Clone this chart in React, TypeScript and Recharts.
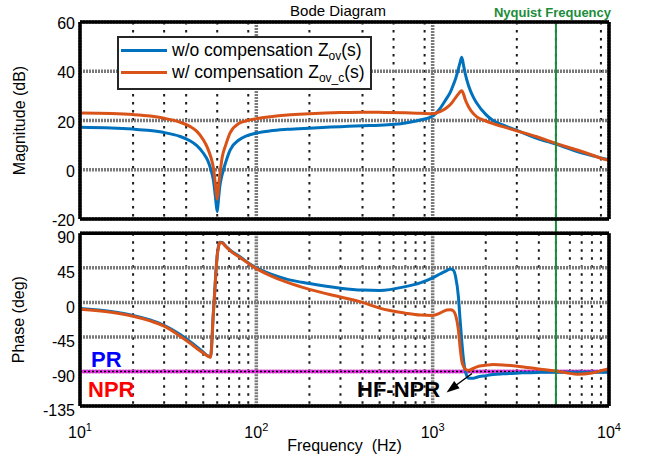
import React from 'react';
import {
  LineChart,
  Line,
  XAxis,
  YAxis,
  CartesianGrid,
  ReferenceLine,
} from 'recharts';

const FONT = '"Liberation Sans", Arial, Helvetica, sans-serif';
const BLUE = '#0072BD';
const ORANGE = '#D95319';
const GREEN = '#1a8c3a';

// frequency points (Hz)
const freqs = [
  10, 15, 20, 25, 30, 37, 42, 46, 50, 53,
  55, 57, 58, 59, 60, 61, 62, 64, 67, 71,
  80, 88, 100, 120, 150, 200, 300, 400, 500, 700,
  850, 1000, 1100, 1200, 1260, 1310, 1350, 1400, 1430, 1462,
  1500, 1530, 1600, 1700, 1780, 2000, 2200, 2500, 3100, 3900,
  5000, 6600, 8000, 9250, 10000,
];

// magnitude (dB)
const magWo = [
  17.3, 17.0, 16.5, 15.9, 15.1, 13.5, 11.8, 9.8, 6.8, 3.8,
  0.5, -4, -8, -13, -17, -12, -7, -2, 3, 8,
  12.2, 13.8, 14.9, 15.8, 16.4, 16.9, 17.5, 17.9, 18.1, 19.0,
  20.2, 21.8, 24.8, 29, 31.5, 34.5, 37, 41, 43.5, 45.7,
  42, 39, 34, 29.5, 27, 22.5, 20, 18.2, 15.6, 12.8,
  10.4, 7.4, 5.8, 4.6, 4.0,
];
const magW = [
  23.0, 22.8, 22.4, 21.8, 20.9, 19.3, 17.6, 15.6, 12.2, 8.7,
  5.5, 1.0, -3, -8, -12, -7, -2.5, 5, 10, 15,
  18.9, 19.9, 20.7, 21.5, 22.2, 22.7, 23.2, 23.4, 23.3, 23.1,
  22.9, 22.7, 23.6, 25.2, 26.5, 28, 29.3, 30.8, 31.6, 32.1,
  30.5, 28.5, 25.5, 22.8, 21.5, 19.8, 18.7, 17.5, 15.5, 13.4,
  10.7, 8.0, 6.0, 4.4, 3.8,
];

// phase (deg)
const phaseWo = [
  -8, -12, -17, -23, -30, -42, -51, -58, -65, -69.5,
  -71, -15, 12, 40, 62, 73, 78.5, 78, 73.5, 68,
  60, 53, 45, 37, 30, 24.5, 18.5, 16, 15.5, 20.5,
  25.5, 32, 37, 41.5, 43.5, 42, 33, 7, -22, -50,
  -77, -89, -99, -99, -97.5, -95.5, -94, -93, -92, -91.2,
  -91, -91, -91, -91, -91,
];
const phaseW = [
  -9, -13, -18, -24, -31, -44, -53, -60, -66, -70,
  -71.5, -16, 11, 39, 61, 72, 78, 77.5, 73, 67.5,
  59, 52.5, 44, 35, 26, 17, 7, 0, -7.5, -14,
  -16.5, -17, -14, -10, -9.5, -11, -17, -36, -58, -76,
  -84, -87, -88.5, -86, -84, -82, -81, -81.5, -83.5, -86.5,
  -89.5, -93.5, -92, -88.5, -86.5,
];

const decadeTicks = [10, 100, 1000, 10000];
const minorTicks = [
  20, 30, 40, 50, 60, 70, 80, 90,
  200, 300, 400, 500, 600, 700, 800, 900,
  2000, 3000, 4000, 5000, 6000, 7000, 8000, 9000,
];
const magTicks = [-20, 0, 20, 40, 60];
const phaseTicks = [-135, -90, -45, 0, 45, 90];
const nyquistFreq = 5000;

const seriesNames = ['w/o compensation Z', 'w/ compensation Z'];
const seriesSubs = ['ov', 'ov_c'];
const seriesColors = [BLUE, ORANGE];

const magData = freqs.map((f, i) => ({ f, wo: magWo[i], w: magW[i] }));
const phaseData = freqs.map((f, i) => ({ f, wo: phaseWo[i], w: phaseW[i] }));

const yTitle = (text: string) => (props: any) => {
  const vb = props.viewBox || { x: 0, y: 0, height: 0 };
  const cx = vb.x + 19;
  const cy = vb.y + vb.height / 2;
  return (
    <text
      x={cx}
      y={cy}
      transform={`rotate(-90 ${cx} ${cy})`}
      textAnchor="middle"
      dominantBaseline="central"
      fontSize={16}
      fontFamily={FONT}
      fill="#000"
    >
      {text}
    </text>
  );
};

const FreqTick = (props: any) => {
  const { x, y, payload } = props;
  const exp = Math.round(Math.log10(payload.value));
  return (
    <text x={x} y={y + 32} textAnchor="middle" fontSize={16} fontFamily={FONT} fill="#000">
      10
      <tspan dy={-7} fontSize={11}>
        {exp}
      </tspan>
    </text>
  );
};

const LegendBox = () => (
  <div
    style={{
      position: 'absolute',
      left: 117,
      top: 36,
      width: 251,
      height: 50,
      border: '2px solid #262626',
      background: '#fff',
      fontFamily: FONT,
      fontSize: 17.5,
      color: '#000',
    }}
  >
    {seriesNames.map((name, i) => (
      <div
        key={name}
        style={{
          position: 'absolute',
          left: 2,
          top: 2 + i * 22.7,
          height: 20,
          display: 'flex',
          alignItems: 'center',
          whiteSpace: 'nowrap',
        }}
      >
        <span style={{ display: 'inline-block', width: 46, height: 3, background: seriesColors[i], marginRight: 5 }} />
        <span>
          {name}
          <span style={{ fontSize: 12, position: 'relative', top: 4 }}>{seriesSubs[i]}</span>
          (s)
        </span>
      </div>
    ))}
  </div>
);

const magTickStyle = { fontSize: 16, fill: '#000', fontFamily: FONT, dy: 1.5 };
const phaseTickStyle = { fontSize: 16, fill: '#000', fontFamily: FONT, dy: 4.5 };

// grid shared by both panels
const panelGrid = (yTicks: number[]) => [
  <CartesianGrid key="minor" verticalValues={minorTicks} horizontal={false} stroke="#1a1a1a" strokeWidth={2} strokeDasharray="2.5 5.5" />,
  <CartesianGrid key="major" verticalValues={decadeTicks} horizontalValues={yTicks} stroke="#7a7a7a" strokeWidth={3.5} strokeDasharray="2 1" />,
];

// thick black box round the plot area
const frame = (yDomain: number[]) => [
  <ReferenceLine key="fl" x={10} stroke="#000" strokeWidth={3.5} ifOverflow="visible" />,
  <ReferenceLine key="fr" x={10000} stroke="#000" strokeWidth={3.5} ifOverflow="visible" />,
  <ReferenceLine key="fb" y={yDomain[0]} stroke="#000" strokeWidth={3.5} ifOverflow="visible" />,
  <ReferenceLine key="ft" y={yDomain[1]} stroke="#000" strokeWidth={3.5} ifOverflow="visible" />,
];

const magDomain = [-20, 60];
const phaseDomain = [-135, 90];

const App = () => {
  return (
    <div style={{ position: 'absolute', left: 0, top: 0, width: 647, height: 460, background: '#fff' }}>
      <div style={{ position: 'absolute', left: 0, top: 0 }}>
        <LineChart width={647} height={232} data={magData} margin={{ top: 22, right: 38, bottom: 13, left: 0 }}>
          {panelGrid(magTicks)}
          <XAxis dataKey="f" type="number" scale="log" domain={[10, 10000]} hide allowDataOverflow />
          <YAxis
            type="number"
            domain={magDomain}
            ticks={magTicks}
            interval={0}
            width={80}
            axisLine={false}
            tickLine={false}
            tickSize={0}
            tickMargin={5}
            tick={magTickStyle}
            label={{ content: yTitle('Magnitude (dB)') }}
          />
          <Line type="monotone" dataKey="wo" stroke={BLUE} strokeWidth={3} dot={false} isAnimationActive={false} />
          <Line type="monotone" dataKey="w" stroke={ORANGE} strokeWidth={3} dot={false} isAnimationActive={false} />
          <ReferenceLine
            segment={[{ x: nyquistFreq, y: -25.5 }, { x: nyquistFreq, y: 60 }]}
            stroke={GREEN}
            strokeWidth={2}
            ifOverflow="visible"
          />
          {frame(magDomain)}
        </LineChart>
      </div>
      <div style={{ position: 'absolute', left: 0, top: 222 }}>
        <LineChart width={647} height={238} data={phaseData} margin={{ top: 11.3, right: 38, bottom: 4, left: 0 }}>
          {panelGrid(phaseTicks)}
          <XAxis
            dataKey="f"
            type="number"
            scale="log"
            domain={[10, 10000]}
            ticks={decadeTicks}
            interval={0}
            height={50}
            axisLine={false}
            tickLine={false}
            tickSize={0}
            tickMargin={0}
            tick={<FreqTick />}
            allowDataOverflow
            label={{ value: 'Frequency\u00a0 (Hz)', position: 'insideBottom', offset: 5, fontSize: 16, fill: '#000', fontFamily: FONT }}
          />
          <YAxis
            type="number"
            domain={phaseDomain}
            ticks={phaseTicks}
            interval={0}
            width={80}
            axisLine={false}
            tickLine={false}
            tickSize={0}
            tickMargin={5}
            tick={phaseTickStyle}
            label={{ content: yTitle('Phase (deg)') }}
          />
          <ReferenceLine y={-90} stroke="#e632e6" strokeWidth={3.5} />
          <ReferenceLine y={-90} stroke="#000" strokeWidth={1.5} strokeDasharray="2 2" />
          <Line type="monotone" dataKey="wo" stroke={BLUE} strokeWidth={3} dot={false} isAnimationActive={false} />
          <Line type="monotone" dataKey="w" stroke={ORANGE} strokeWidth={3} dot={false} isAnimationActive={false} />
          <ReferenceLine
            segment={[{ x: nyquistFreq, y: -135 }, { x: nyquistFreq, y: 92 }]}
            stroke={GREEN}
            strokeWidth={2}
            ifOverflow="visible"
          />
          {frame(phaseDomain)}
        </LineChart>
      </div>
      <LegendBox />
      <svg
        width={647}
        height={460}
        style={{ position: 'absolute', left: 0, top: 0, pointerEvents: 'none' }}
        fontFamily={FONT}
      >
        <text x={338} y={15.5} textAnchor="middle" fontSize={15} fill="#000">
          Bode Diagram
        </text>
        <text x={552.5} y={17} textAnchor="middle" fontSize={13} fontWeight="bold" fill={GREEN}>
          Nyquist Frequency
        </text>
        <text x={91} y={367} fontSize={22} fontWeight="bold" fill="#0000ff">
          PR
        </text>
        <text x={88} y={397} fontSize={22} fontWeight="bold" fill="#ff0000">
          NPR
        </text>
        <text x={357} y={397} fontSize={22} fontWeight="bold" fill="#000">
          HF-NPR
        </text>
        <line x1={472} y1={373.5} x2={455} y2={386} stroke="#000" strokeWidth={1.5} />
        <polygon points="446.5,392.5 459.6,388.3 454.2,381.1" fill="#000" />
      </svg>
    </div>
  );
};

export default App;
